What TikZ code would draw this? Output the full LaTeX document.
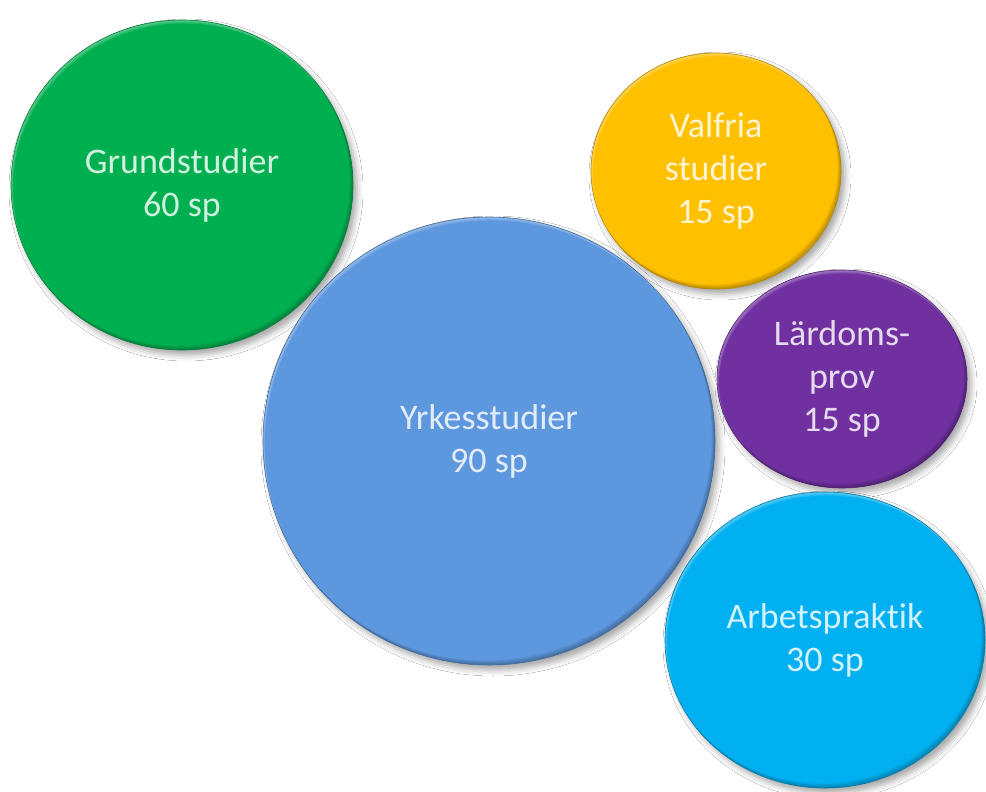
\documentclass[tikz,border=0pt]{standalone}
\usepackage{fontspec}
\newfontfamily\bubblefont[Ligatures=NoCommon]{Carlito}
\usetikzlibrary{shapes.geometric,shadows.blur}

\definecolor{grn}{HTML}{00B050}
\definecolor{blu}{HTML}{5D97DD}
\definecolor{ylw}{HTML}{FFC000}
\definecolor{pur}{HTML}{7030A0}
\definecolor{cyn}{HTML}{00B0F0}

\tikzset{
  % #1 colour, #2 horizontal radius, #3 vertical radius (pt)
  bubble/.style n args={3}{
    ellipse, inner sep=0pt, outer sep=0pt,
    minimum width={2*#2pt}, minimum height={2*#3pt},
    fill=#1, draw=#1!70!black, line width=0.6pt,
    text=white!82!#1, align=center,
    font={\bubblefont\fontsize{36}{43}\selectfont},
    blur shadow={shadow xshift=4pt, shadow yshift=-5pt,
                 shadow blur radius=6pt, shadow opacity=35},
    path picture={
      \foreach \k in {1,...,4}{
        % light bevel along the upper left rim
        \fill[white, opacity=0.10, even odd rule]
          ([shift={(-8pt,-8pt)}]path picture bounding box.south west)
            rectangle ([shift={(8pt,8pt)}]path picture bounding box.north east)
          ([shift={({0.5*\k*1pt},{-0.9*\k*1pt})}]path picture bounding box.center)
            ellipse [x radius=#2pt, y radius=#3pt];
        % darker rim along the lower right
        \fill[#1!45!black, opacity=0.12, even odd rule]
          ([shift={(-8pt,-8pt)}]path picture bounding box.south west)
            rectangle ([shift={(8pt,8pt)}]path picture bounding box.north east)
          ([shift={({-0.8*\k*1pt},{1.1*\k*1pt})}]path picture bounding box.center)
            ellipse [x radius=#2pt, y radius=#3pt];
      }
    }
  }
}

\begin{document}
\begin{tikzpicture}[x=1pt, y=-1pt]
  \fill[white] (0,0) rectangle (986,792);
  \useasboundingbox (0,0) rectangle (986,792);

  \node[bubble={grn}{171}{165}] (grund) at (182,185) {Grundstudier\\60 sp};
  \node[bubble={blu}{226}{224}] (yrke)  at (489,441) {Yrkesstudier\\90 sp};
  \node[bubble={ylw}{125}{118}] (valf)  at (716,171) {Valfria\\studier\\15 sp};
  \node[bubble={pur}{125}{109}] (lard)  at (842,379) {Lärdoms-\\prov\\15 sp};
  \node[bubble={cyn}{160}{148}] (arb)   at (825,640) {Arbetspraktik\\30 sp};
\end{tikzpicture}
\end{document}
